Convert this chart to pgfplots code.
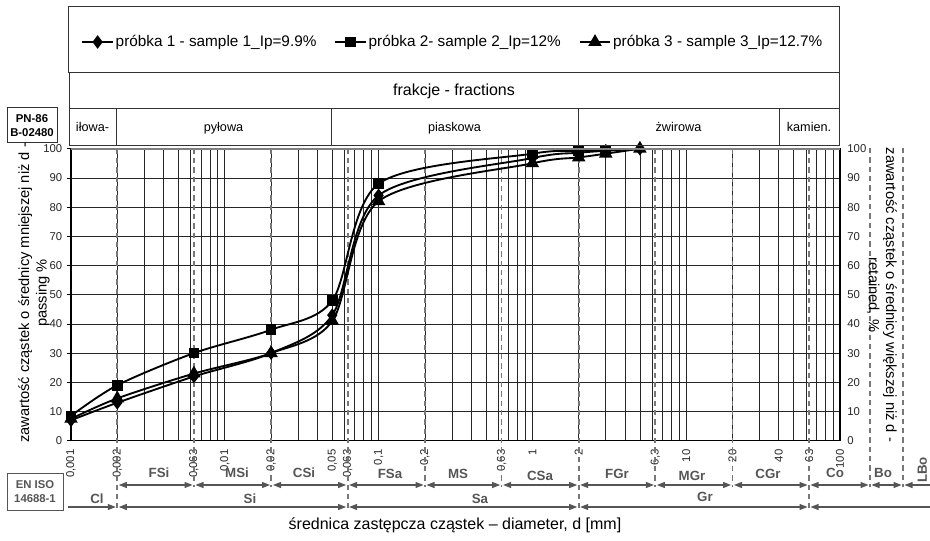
\documentclass[border=0pt]{standalone}
\usepackage{fontspec}
\setmainfont{Liberation Sans}
\usepackage{pgfplots}
\usepackage{pgfplotstable}
\pgfplotsset{compat=1.18}
\usetikzlibrary{arrows.meta}

\definecolor{dgray}{HTML}{555555}
\definecolor{dashgray}{HTML}{777777}
\definecolor{boxline}{HTML}{333333}

% d [mm], passing [%]
\pgfplotstableread{
d p
0.001 7
0.002 13
0.0063 22
0.02 30
0.05 43
0.1 84
1 96.8
2 98.6
3 99.3
5 100
}\sampleA
\pgfplotstableread{
d p
0.001 8.5
0.002 19
0.0063 30
0.02 38
0.05 48
0.1 88
1 98.3
2 99.2
3 99.5
}\sampleB
\pgfplotstableread{
d p
0.001 7.5
0.002 14.5
0.0063 23
0.02 30
0.05 41
0.1 82
1 95
2 97
3 98.3
5 100
}\sampleC

\tikzset{
  arr/.style={draw=dgray, line width=0.8pt, {Triangle[length=6pt,width=4.5pt]}-{Triangle[length=6pt,width=4.5pt]}},
  arrR/.style={draw=dgray, line width=0.8pt, -{Triangle[length=6pt,width=4.5pt]}},
  arrL/.style={draw=dgray, line width=0.8pt, {Triangle[length=6pt,width=4.5pt]}-},
  blab/.style={text=dgray, font=\fontsize{10}{12}\selectfont\bfseries, text height=1.6ex, text depth=0.2ex},
  bnd/.style={draw=dashgray, line width=1.3pt, dash pattern=on 4pt off 3pt},
}

\begin{document}
\begin{tikzpicture}[x=0.75pt, y=0.75pt]
\useasboundingbox (0,0) rectangle (930,540);

\begin{axis}[
  at={(53.25pt,74.475pt)}, anchor=south west,
  scale only axis, width=576.75pt, height=219pt,
  xmode=log, log basis x=10,
  xmin=0.001, xmax=100, ymin=0, ymax=100,
  clip=false,
  xtick={0.001,0.002,0.0063,0.01,0.02,0.05,0.063,0.1,0.2,0.63,1,2,6.3,10,20,40,63,100},
  xticklabels={{0,001},{0,002},{0,063},{0,01},{0,02},{0,05},{0,063},{0,1},{0,2},{0,63},1,2,{6,3},10,20,40,63,100},
  xticklabel style={rotate=90, anchor=east, text=black!85, font=\fontsize{8.5}{9}\selectfont},
  xtick style={draw=none},
  minor xtick={0.001,0.002,0.003,0.004,0.005,0.006,0.007,0.008,0.009,
    0.01,0.02,0.03,0.04,0.05,0.06,0.07,0.08,0.09,
    0.1,0.2,0.3,0.4,0.5,0.6,0.7,0.8,0.9,
    1,2,3,4,5,6,7,8,9,10,20,30,40,50,60,70,80,90,100},
  xminorgrids=true, xmajorgrids=false,
  ytick={0,10,...,100}, ymajorgrids=true, ytick pos=left,
  yticklabel style={text=black!85, font=\fontsize{8.5}{9}\selectfont},
  ytick style={black, line width=0.6pt},
  tick align=outside, major tick length=3pt,
  /pgf/number format/assume math mode=true,
  minor grid style={black!85, line width=0.55pt},
  major grid style={black!85, line width=0.6pt},
  axis line style={black, line width=0.8pt},
  legend style={at={(0.4967,1.3654)}, anchor=center, draw=none, fill=none,
    legend columns=3, font=\fontsize{11.5}{13}\selectfont,
    /tikz/every even column/.append style={column sep=12pt},
    nodes={inner sep=1.5pt}},
  legend image code/.code={\draw[mark repeat=2,mark phase=2,#1] plot coordinates {(0cm,0cm) (0.4cm,0cm) (0.8cm,0cm)};},
]
% fraction boundaries
\foreach \b in {0.002,0.063,2,63}{
  \edef\tmp{\noexpand\draw[bnd] (axis cs:\b,100) -- (axis cs:\b,-23);}\tmp
}
\foreach \b in {0.0063,0.02,0.2,0.63,6.3,20}{
  \edef\tmp{\noexpand\draw[bnd] (axis cs:\b,100) -- (axis cs:\b,-16);}\tmp
}
\addplot[black, line width=1.4pt, smooth, tension=0.5, mark=diamond*, mark size=4pt, mark options={solid, fill=black}] table[x=d, y=p] {\sampleA};
\addlegendentry{próbka 1 - sample 1\_Ip=9.9\%}
\addplot[black, line width=1.4pt, smooth, tension=0.5, mark=square*, mark size=3.3pt, mark options={solid, fill=black}] table[x=d, y=p] {\sampleB};
\addlegendentry{próbka 2- sample 2\_Ip=12\%}
\addplot[black, line width=1.4pt, smooth, tension=0.5, mark=triangle*, mark size=4.5pt, mark options={solid, fill=black}] table[x=d, y=p] {\sampleC};
\addlegendentry{próbka 3 - sample 3\_Ip=12.7\%}
\end{axis}

% right-hand percentage scale
\begin{axis}[
  at={(53.25pt,74.475pt)}, anchor=south west,
  scale only axis, width=576.75pt, height=219pt,
  xmin=0, xmax=1, ymin=0, ymax=100,
  axis x line=none, axis y line*=right,
  axis line style={draw=none},
  ytick={0,10,...,100}, ytick style={draw=none},
  yticklabel style={text=black!85, font=\fontsize{8.5}{9}\selectfont, xshift=2pt},
  /pgf/number format/assume math mode=true,
]
\end{axis}

% top of plot
\draw[gray, line width=1.5pt] (71,391.3) -- (840,391.3);

% header: legend box, fractions
\begin{scope}[draw=boxline, line width=0.75pt]
  \draw (68,467) rectangle (839,533);
  \draw (69,431) rectangle (839,467);
  \draw (69,394) rectangle (839,431);
  \foreach \x in {116,331,578,779} \draw (\x,394) -- (\x,431);
\end{scope}
\node[font=\fontsize{12}{14}\selectfont] at (454,449) {frakcje - fractions};
\begin{scope}[every node/.style={font=\fontsize{9.5}{11}\selectfont, text height=1.6ex, text depth=0.4ex}]
  \node at (92.5,412.5) {iłowa-};
  \node at (223.5,412.5) {pyłowa};
  \node at (454.5,412.5) {piaskowa};
  \node at (678.5,412.5) {żwirowa};
  \node at (809,412.5) {kamien.};
\end{scope}

% standard boxes
\draw[boxline, line width=0.75pt] (7,397) rectangle (57,432);
\node[align=center, font=\fontsize{8.5}{10.5}\selectfont\bfseries] at (32,414.5) {PN-86\\B-02480};
\draw[dgray, line width=0.75pt] (7,30) rectangle (63,67);
\node[align=center, text=dgray, font=\fontsize{8.5}{10.5}\selectfont\bfseries] at (35,48.5) {EN ISO\\14688-1};

% boundaries beyond 100 mm
\draw[bnd] (870,392) -- (870,53);
\draw[bnd] (903,392) -- (903,53);

% row 1: sub-fractions
\draw[arr] (118.8,55) -- (192.5,55);
\draw[arr] (195.5,55) -- (270,55);
\draw[arr] (273,55) -- (346.1,55);
\draw[arr] (349.1,55) -- (423.5,55);
\draw[arr] (426.5,55) -- (500.1,55);
\draw[arr] (503.1,55) -- (577.2,55);
\draw[arr] (580.2,55) -- (653.9,55);
\draw[arr] (656.9,55) -- (731,55);
\draw[arr] (734,55) -- (807.5,55);
\draw[arr] (810.5,55) -- (868.5,55);
\draw[arr] (871.5,55) -- (901.5,55);
\draw[arrL] (904.5,55) -- (930,55);
\node[blab] at (159,67) {FSi};
\node[blab] at (237,67) {MSi};
\node[blab] at (304,67) {CSi};
\node[blab] at (390,66) {FSa};
\node[blab] at (458,66) {MS};
\node[blab] at (540,64) {CSa};
\node[blab] at (617,66) {FGr};
\node[blab] at (692,64) {MGr};
\node[blab] at (768,66) {CGr};
\node[blab] at (835,67) {Co};
\node[blab] at (883,67) {Bo};
\node[blab, rotate=90] at (922,70) {LBo};

% row 2: main fractions
\draw[arrR] (68,33) -- (115.8,33);
\draw[arr] (118.8,33) -- (346.1,33);
\draw[arr] (349.1,33) -- (577.2,33);
\draw[arr] (580.2,33) -- (807.5,33);
\draw[arrL] (810.5,33) -- (930,33);
\node[blab] at (97,41) {Cl};
\node[blab] at (250,41) {Si};
\node[blab] at (480,41) {Sa};
\node[blab] at (705,43) {Gr};

% axis titles
\node[rotate=90, align=center, font=\fontsize{11}{13}\selectfont] at (34,247)
  {zawartość cząstek o średnicy mniejszej niż d -\\passing \%};
\node[rotate=-90, align=center, font=\fontsize{11}{13}\selectfont] at (882,245)
  {zawartość cząstek o średnicy większej niż d -\\retained, \%};
\node[font=\fontsize{12}{14}\selectfont] at (455,15)
  {średnica zastępcza cząstek – diameter, d [mm]};
\end{tikzpicture}
\end{document}
